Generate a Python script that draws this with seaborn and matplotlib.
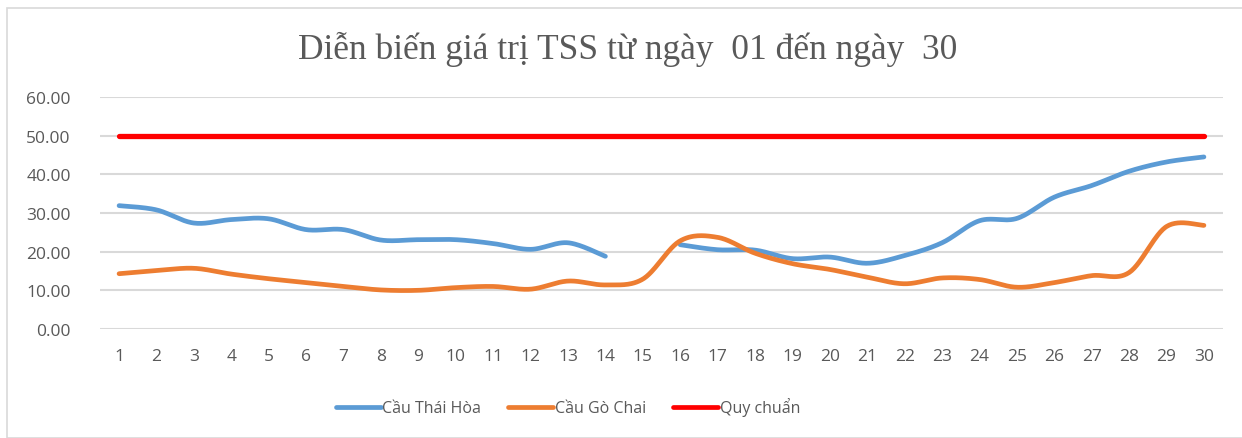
import numpy as np
import pandas as pd
import matplotlib
matplotlib.use("Agg")
import matplotlib.pyplot as plt
import seaborn as sns
from matplotlib.lines import Line2D
from matplotlib.patches import Rectangle

# ---- data ----
days = list(range(1, 31))
thai_hoa = [31.9, 30.8, 27.4, 28.3, 28.5, 25.7, 25.7, 23.0, 23.1, 23.1,
            22.1, 20.6, 22.3, 18.8, np.nan, 21.8, 20.5, 20.4, 18.2, 18.6,
            17.0, 19.0, 22.3, 28.0, 28.6, 34.1, 37.1, 40.8, 43.2, 44.5]
go_chai = [14.3, 15.1, 15.7, 14.2, 13.0, 12.0, 11.0, 10.1, 10.0, 10.7,
           11.0, 10.3, 12.4, 11.4, 12.9, 22.8, 23.7, 19.6, 16.9, 15.4,
           13.4, 11.7, 13.2, 12.8, 10.8, 12.0, 13.8, 14.6, 26.5, 26.8]
quy_chuan = [50.0] * 30
series_names = ["Cầu Thái Hòa", "Cầu Gò Chai", "Quy chuẩn"]
colors = ["#5b9bd5", "#ed7d31", "#ff0000"]
yticks = [0, 10, 20, 30, 40, 50, 60]
title = "Diễn biến giá trị TSS từ ngày  01 đến ngày  30"

W, H = 1242, 439


def smooth(xs, ys, n=30):
    """Excel-like smoothed line (Catmull-Rom Bezier) for contiguous runs."""
    xs = np.asarray(xs, float)
    ys = np.asarray(ys, float)
    out = []
    valid = ~np.isnan(ys)
    idx = np.where(valid)[0]
    runs = np.split(idx, np.where(np.diff(idx) != 1)[0] + 1)
    for r in runs:
        px, py = xs[r], ys[r]
        m = len(px)
        sx, sy = [], []
        if m == 1:
            sx, sy = list(px), list(py)
        for i in range(m - 1):
            p0 = (px[max(i - 1, 0)], py[max(i - 1, 0)])
            p1 = (px[i], py[i])
            p2 = (px[i + 1], py[i + 1])
            p3 = (px[min(i + 2, m - 1)], py[min(i + 2, m - 1)])
            b1 = (p1[0] + (p2[0] - p0[0]) / 6, p1[1] + (p2[1] - p0[1]) / 6)
            b2 = (p2[0] - (p3[0] - p1[0]) / 6, p2[1] - (p3[1] - p1[1]) / 6)
            t = np.linspace(0, 1, n, endpoint=(i == m - 2))
            c = [(1 - t) ** 3, 3 * (1 - t) ** 2 * t, 3 * (1 - t) * t ** 2, t ** 3]
            sx.extend(c[0] * p1[0] + c[1] * b1[0] + c[2] * b2[0] + c[3] * p2[0])
            sy.extend(c[0] * p1[1] + c[1] * b1[1] + c[2] * b2[1] + c[3] * p2[1])
        out.append((np.array(sx), np.array(sy)))
    return out


sns.set_theme(style="white")
plt.rcParams["font.family"] = ["Open Sans", "DejaVu Sans"]

fig = plt.figure(figsize=(W / 100, H / 100), dpi=100)
fig.patch.set_facecolor("white")
# chart border (only top/left visible in the crop)
fig.patches.append(Rectangle((7 / W, 0), 1.2, 1 - 9 / H, transform=fig.transFigure,
                             fill=False, edgecolor="#d9d9d9", linewidth=1.2))

ax = fig.add_axes([100 / W, 1 - 330 / H, (1223 - 100) / W, (330 - 98) / H])
ax.set_facecolor("none")

lws = [3.4, 3.4, 3.8]
for name, vals, col, lw in zip(series_names, [thai_hoa, go_chai, quy_chuan], colors, lws):
    for k, (sx, sy) in enumerate(smooth(days, vals)):
        df = pd.DataFrame({"x": sx, "y": sy})
        sns.lineplot(data=df, x="x", y="y", ax=ax, color=col, linewidth=lw,
                     sort=False, estimator=None, solid_capstyle="round", zorder=3)

ax.set_xlim(0.49, 30.51)
ax.set_ylim(0, 60)
ax.set_yticks(yticks)
ax.set_yticklabels([f"{v:.2f}" for v in yticks])
ax.set_xticks(days)
ax.set_xticklabels([str(d) for d in days])
ax.yaxis.grid(True, color="#d9d9d9", linewidth=1.5)
ax.xaxis.grid(False)
for s in ax.spines.values():
    s.set_visible(False)
ax.tick_params(axis="both", length=0, labelsize=12.5, colors="#595959")
ax.tick_params(axis="y", pad=21)
ax.tick_params(axis="x", pad=14)
ax.set_xlabel("")
ax.set_ylabel("")
if ax.get_legend():
    ax.get_legend().remove()

fig.text(628 / W, 1 - 49 / H, title, ha="center", va="center",
         family=["Liberation Serif", "DejaVu Serif"], fontsize=25.5, color="#595959")

handles = [Line2D([0], [0], color=c, linewidth=3.4, solid_capstyle="round") for c in colors]
fig.legend(handles, series_names, loc="center", bbox_to_anchor=(568 / W, 1 - 408 / H),
           ncol=3, frameon=False, fontsize=11.5, handlelength=2.8, handletextpad=0.1,
           columnspacing=1.7, labelcolor="#595959")

fig.savefig("out.png", dpi=100, facecolor="white")
